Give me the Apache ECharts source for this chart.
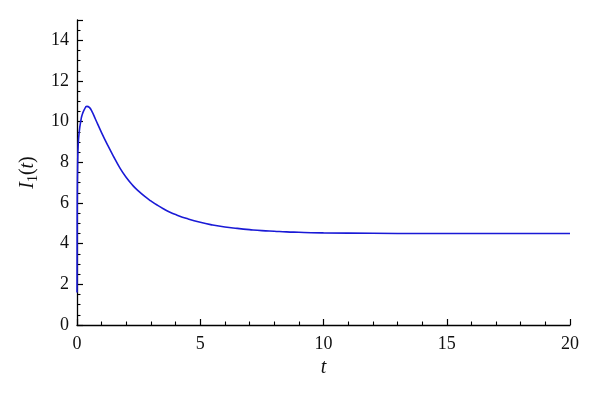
<!DOCTYPE html>
<html>
<head>
<meta charset="utf-8">
<script src="https://cdn.jsdelivr.net/npm/echarts@6/dist/echarts.min.js"></script>
<style>html,body{margin:0;padding:0;background:#fff;}#c{width:600px;height:404px;}</style>
</head>
<body>
<div id="c"></div>
<script>
const tValues = [0, 0.005, 0.01, 0.025, 0.05, 0.1, 0.15, 0.2, 0.3, 0.4, 0.5, 0.6, 0.75, 1.0, 1.25, 1.5, 1.75, 2.0, 2.25, 2.5, 2.75, 3.0, 3.25, 3.5, 3.75, 4.0, 4.5, 5.0, 5.5, 6.0, 6.5, 7.0, 7.5, 8.0, 8.5, 9.0, 9.5, 10, 12, 14, 16, 18, 20];
const i1Values = [1.6, 4.0, 6.0, 7.8, 8.9, 9.6, 10.0, 10.3, 10.6, 10.75, 10.7, 10.52, 10.12, 9.45, 8.83, 8.25, 7.7, 7.25, 6.88, 6.58, 6.32, 6.1, 5.9, 5.72, 5.56, 5.43, 5.22, 5.05, 4.92, 4.82, 4.75, 4.69, 4.64, 4.61, 4.58, 4.56, 4.54, 4.53, 4.51, 4.5, 4.5, 4.5, 4.5];
const xTicks = [0, 5, 10, 15, 20];
const yTicks = [0, 2, 4, 6, 8, 10, 12, 14];

const chart = echarts.init(document.getElementById('c'));
const font = 'Liberation Serif';
chart.setOption({
  animation: false,
  backgroundColor: '#fff',
  grid: {left: 77, right: 30, top: 20, bottom: 79},
  xAxis: {
    type: 'value', min: xTicks[0], max: xTicks[xTicks.length - 1], interval: 5,
    name: 't', nameLocation: 'middle', nameGap: 27,
    nameTextStyle: {fontFamily: font, fontStyle: 'italic', fontSize: 20, color: '#111'},
    axisLine: {lineStyle: {color: '#000', width: 1.3}},
    axisTick: {inside: true, length: 6, lineStyle: {color: '#000', width: 1.2}},
    minorTick: {show: true, splitNumber: 5, length: 3.5, lineStyle: {color: '#000', width: 1.1}},
    splitLine: {show: false},
    axisLabel: {fontFamily: font, fontSize: 18, color: '#111', margin: 10}
  },
  yAxis: {
    type: 'value', min: 0, max: 15, interval: 2,
    name: '{i|I}{s|1}{n|(}{i|t}{n|)}', nameLocation: 'middle', nameGap: 33, nameRotate: 90,
    nameTextStyle: {
      rich: {
        i: {fontFamily: font, fontStyle: 'italic', fontSize: 20, color: '#111'},
        n: {fontFamily: font, fontSize: 20, color: '#111'},
        s: {fontFamily: font, fontSize: 14, color: '#111', verticalAlign: 'bottom', padding: [10, 0, 0, 0]}
      }
    },
    axisLine: {show: true, lineStyle: {color: '#000', width: 1.3}},
    axisTick: {show: true, inside: true, length: 6, lineStyle: {color: '#000', width: 1.2}},
    minorTick: {show: true, splitNumber: 4, length: 3.5, lineStyle: {color: '#000', width: 1.1}},
    splitLine: {show: false},
    axisLabel: {fontFamily: font, fontSize: 18, color: '#111', margin: 8,
      formatter: v => yTicks.includes(v) ? String(v) : ''}
  },
  series: [{
    type: 'line', smooth: true, showSymbol: false,
    data: tValues.map((t, k) => [t, i1Values[k]]),
    lineStyle: {color: '#1a1ad6', width: 1.6}
  }]
});
</script>
</body>
</html>
